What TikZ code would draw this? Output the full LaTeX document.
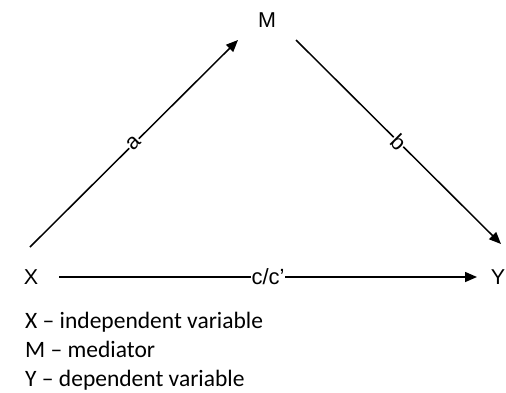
\documentclass[tikz,border=0pt]{standalone}
\usepackage{fontspec}
\setmainfont{Liberation Sans}
\newfontfamily\legendfont{Carlito}
\usetikzlibrary{arrows.meta}
\begin{document}
\begin{tikzpicture}[x=1pt,y=-1pt,
  var/.style={font=\fontsize{21.5}{26}\selectfont, inner sep=0pt},
  arr/.style={line width=1.5pt, -{Triangle[length=12pt,width=10pt]}},
  lbl/.style={font=\fontsize{22}{26}\selectfont, fill=white, inner sep=0.5pt},
  legend/.style={font=\legendfont\fontsize{23.5}{28}\selectfont, anchor=base west, inner sep=0pt}]
\useasboundingbox (0,0) rectangle (506,392);
\node[var] (X) at (31,277) {X};
\node[var] (M) at (267,20) {M};
\node[var] (Y) at (498,277) {Y};
\draw[arr] ([xshift=-1pt,yshift=30pt]X.center) -- node[lbl,sloped] {a} ([xshift=-29pt,yshift=-20pt]M.center);
\draw[arr] ([xshift=29pt,yshift=-20pt]M.center) -- node[lbl,sloped] {b} ([xshift=3pt,yshift=33pt]Y.center);
\draw[arr] ([xshift=28pt]X.center) -- node[lbl] {c/c’} ([xshift=-21pt]Y.center);
\node[legend] (L1) at (25,328) {X – independent variable};
\node[legend] (L2) at (25,357) {M – mediator};
\node[legend] (L3) at (25,386) {Y – dependent variable};
\end{tikzpicture}
\end{document}
